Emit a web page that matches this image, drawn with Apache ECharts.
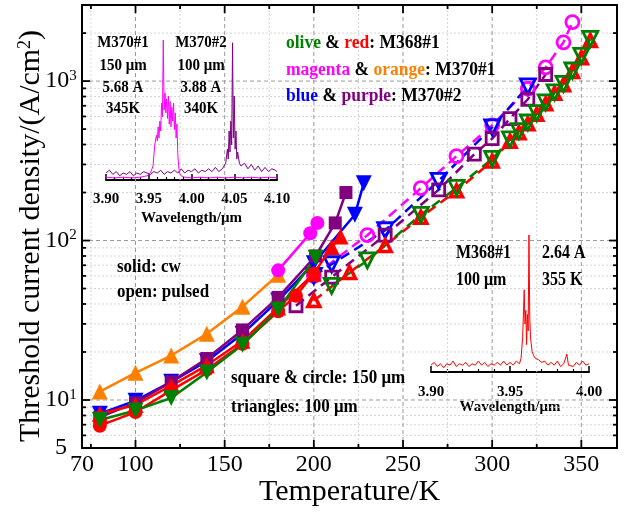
<!DOCTYPE html>
<html><head><meta charset="utf-8">
<script src="https://cdn.jsdelivr.net/npm/echarts@6/dist/echarts.min.js"></script>
<style>html,body{margin:0;padding:0;background:#fff}#c{width:626px;height:512px}</style>
</head><body><div id="c"></div>
<script>
const FONT = '"Liberation Serif","Times New Roman",serif';

// ---------- main axes ticks ----------
const xLabelTicks = [70, 100, 150, 200, 250, 300, 350];
const xMajorTicks = [100, 150, 200, 250, 300, 350];
const xMinorTicks = [75, 125, 175, 225, 275, 325];
const xGridMajor = [100, 150, 200, 250, 300, 350];
const xGridMinor = [75, 125, 175, 225, 275, 325];
const yLabelTicks = [5, 10, 100, 1000];
const yMajorTicks = [10, 100, 1000];
const yMinorTicks = [6, 7, 8, 9, 20, 30, 40, 50, 60, 70, 80, 90, 200, 300, 400, 500, 600, 700, 800, 900, 2000, 3000];
const yGridMajor = [10, 100, 1000];
const yGridMinor = [6, 7, 8, 9, 20, 30, 40, 50, 60, 70, 80, 90, 200, 300, 400, 500, 600, 700, 800, 900, 2000];

// ---------- cw (solid) ----------
const tOrangeCw = [80, 100, 120, 140, 160, 180];
const vOrangeCw = [11.3, 14.8, 19, 26, 38.5, 61];
const tMagentaCw = [180, 198, 202];
const vMagentaCw = [65, 111, 129];
const tPurpleCw = [80, 100, 120, 140, 160, 180, 201, 212, 218];
const vPurpleCw = [7.8, 9.6, 13, 18.2, 27.5, 44, 80, 129, 200];
const tBlueCw = [80, 100, 120, 140, 160, 180, 200, 223, 228];
const vBlueCw = [8.2, 9.9, 13, 17.5, 26, 42, 72, 145, 229];
const tRedCircCw = [80, 100, 120, 140, 160, 180, 190, 200];
const vRedCircCw = [6.9, 8.4, 11.5, 15.5, 22.5, 36, 45, 62];
const tRedTriCw = [80, 100, 120, 140, 160, 180, 200, 210, 215];
const vRedTriCw = [8.2, 9.3, 12.3, 16.5, 23.5, 38, 62, 91, 106];
const tOliveCw = [80, 100, 120, 140, 160, 180, 201];
const vOliveCw = [7.5, 8.6, 10.3, 14.9, 22.2, 37, 78];

// ---------- pulsed (open) ----------
const tMagentaP = [200, 230, 260, 280, 300, 320, 330, 340, 345];
const vMagentaP = [60, 108, 213, 338, 528, 895, 1220, 1750, 2340];
const tBlueP = [200, 210, 240, 270, 300, 320];
const vBlueP = [60, 71, 116, 237, 513, 927];
const tPurpleP = [190, 210, 240, 270, 290, 300, 310, 320, 330];
const vPurpleP = [39, 59, 108, 208, 348, 436, 582, 769, 1100];
const tRedP = [200, 220, 240, 260, 280, 300, 310, 315, 320, 325, 330, 335, 340, 345, 350, 355];
const vRedP = [42, 63, 93, 140, 205, 315, 420, 475, 540, 620, 720, 840, 950, 1150, 1400, 1800];
const tOliveP = [210, 230, 260, 280, 300, 310, 315, 320, 325, 330, 335, 340, 345, 350, 355];
const vOliveP = [52, 75, 145, 214, 325, 431, 485, 550, 630, 735, 850, 960, 1165, 1440, 1840];

// ---------- spectra ----------
const wlMagenta = [3.900,3.910,3.920,3.930,3.940,3.948,3.952,3.955,3.957,3.959,3.960,3.961,3.962,3.963,3.964,3.965,3.966,3.967,3.968,3.969,3.970,3.971,3.972,3.973,3.974,3.975,3.976,3.977,3.978,3.979,3.980,3.981,3.982,3.983,3.984,3.985,3.986,3.988,3.992,4.000,4.010,4.020,4.030,4.040,4.050,4.060,4.070,4.080,4.090,4.100];
const inMagenta = [0.02,0.015,0.02,0.015,0.02,0.03,0.05,0.10,0.25,0.32,0.28,0.38,0.30,0.42,0.35,0.55,0.45,1.0,0.50,0.62,0.48,0.58,0.44,0.60,0.40,0.56,0.38,0.52,0.42,0.55,0.36,0.48,0.30,0.40,0.18,0.10,0.05,0.03,0.02,0.015,0.02,0.015,0.02,0.015,0.02,0.015,0.02,0.015,0.02,0.015];
const wlPurple = [3.900,3.904,3.908,3.912,3.916,3.920,3.924,3.928,3.932,3.936,3.940,3.944,3.948,3.952,3.956,3.960,3.964,3.968,3.972,3.976,3.980,3.984,3.988,3.992,3.996,4.000,4.004,4.008,4.012,4.016,4.020,4.024,4.028,4.032,4.036,4.040,4.042,4.043,4.044,4.045,4.046,4.047,4.048,4.049,4.050,4.051,4.052,4.053,4.054,4.056,4.058,4.062,4.066,4.070,4.074,4.078,4.082,4.086,4.090,4.094,4.098,4.100];
const inPurple = [0.05,0.07,0.04,0.06,0.03,0.05,0.04,0.06,0.03,0.05,0.04,0.06,0.05,0.04,0.06,0.05,0.07,0.04,0.06,0.05,0.07,0.05,0.08,0.05,0.07,0.06,0.08,0.05,0.07,0.06,0.08,0.06,0.09,0.06,0.08,0.12,0.22,0.15,0.35,0.20,0.42,0.25,0.98,0.30,0.60,0.22,0.35,0.15,0.20,0.12,0.10,0.12,0.08,0.11,0.07,0.10,0.06,0.09,0.06,0.08,0.07,0.06];
const wlRed = [3.900,3.902,3.904,3.906,3.908,3.910,3.912,3.914,3.916,3.918,3.920,3.922,3.924,3.926,3.928,3.930,3.932,3.934,3.936,3.938,3.940,3.942,3.944,3.946,3.948,3.950,3.952,3.954,3.956,3.957,3.958,3.959,3.9595,3.960,3.9605,3.961,3.9615,3.962,3.9625,3.963,3.964,3.965,3.966,3.968,3.970,3.972,3.974,3.976,3.978,3.980,3.982,3.984,3.986,3.987,3.988,3.990,3.992,3.994,3.996,3.998,4.000];
const inRed = [0.05,0.07,0.04,0.06,0.03,0.06,0.05,0.08,0.04,0.06,0.05,0.07,0.04,0.06,0.05,0.08,0.05,0.07,0.04,0.06,0.05,0.07,0.05,0.08,0.05,0.07,0.05,0.08,0.06,0.10,0.25,0.60,0.35,0.45,0.20,0.42,0.30,1.0,0.40,0.25,0.15,0.12,0.10,0.09,0.07,0.08,0.05,0.07,0.05,0.08,0.04,0.06,0.13,0.05,0.06,0.04,0.07,0.05,0.08,0.05,0.06];

const zip = (a, b) => a.map((x, i) => [x, b[i]]);
const C = {olive:'#008000', red:'#ff0000', magenta:'#ff00ff', orange:'#ff8000', blue:'#0000ff', purple:'#800080'};

function solid(t, v, color, symbol, size, rotate) {
  return {type:'line', xAxisIndex:0, yAxisIndex:0, data: zip(t, v), symbol, symbolSize: size, symbolRotate: rotate || 0,
    lineStyle:{color, width:2.5}, itemStyle:{color, borderWidth:0}, z:5, clip:false};
}
function open(t, v, color, symbol, size, rotate, bw) {
  return {type:'line', xAxisIndex:0, yAxisIndex:0, data: zip(t, v), symbol, symbolSize: size, symbolRotate: rotate || 0,
    lineStyle:{color, width:2.5, type:[10,6]}, itemStyle:{color:'rgba(0,0,0,0)', borderColor: color, borderWidth: bw || 2.8}, z:4, clip:false};
}

function hLines(vals, style) {
  return {type:'custom', xAxisIndex:0, yAxisIndex:0, z:1, silent:true, data: vals.map(v => [70, v]),
    renderItem(p, api) {
      const a = api.coord([70, api.value(1)]), b = api.coord([370, api.value(1)]);
      return {type:'line', shape:{x1:a[0], y1:a[1], x2:b[0], y2:b[1]}, style};
    }};
}
function vLines(vals, style) {
  return {type:'custom', xAxisIndex:0, yAxisIndex:0, z:1, silent:true, data: vals.map(v => [v, 5]),
    renderItem(p, api) {
      const a = api.coord([api.value(0), 5]), b = api.coord([api.value(0), 3000]);
      return {type:'line', shape:{x1:a[0], y1:a[1], x2:b[0], y2:b[1]}, style};
    }};
}
function yTicks(vals, len) {
  return {type:'custom', xAxisIndex:0, yAxisIndex:0, z:6, silent:true, data: vals.map(v => [70, v]),
    renderItem(p, api) {
      const a = api.coord([70, api.value(1)]), b = api.coord([370, api.value(1)]);
      const st = {stroke:'#000', lineWidth:1.8};
      return {type:'group', children:[
        {type:'line', shape:{x1:a[0], y1:a[1], x2:a[0]+len, y2:a[1]}, style:st},
        {type:'line', shape:{x1:b[0], y1:b[1], x2:b[0]-len, y2:b[1]}, style:st}]};
    }};
}
function xTicks(vals, len) {
  return {type:'custom', xAxisIndex:0, yAxisIndex:0, z:6, silent:true, data: vals.map(v => [v, 5]),
    renderItem(p, api) {
      const a = api.coord([api.value(0), 5]), b = api.coord([api.value(0), 3000]);
      const st = {stroke:'#000', lineWidth:1.8};
      return {type:'group', children:[
        {type:'line', shape:{x1:a[0], y1:a[1], x2:a[0], y2:a[1]-len}, style:st},
        {type:'line', shape:{x1:b[0], y1:b[1], x2:b[0], y2:b[1]+len}, style:st}]};
    }};
}

const gridMajorStyle = {stroke:'#999', lineWidth:1, lineDash:[4,3]};
const gridMinorStyle = {stroke:'#d4d4d4', lineWidth:1, lineDash:[2,2]};

const chart = echarts.init(document.getElementById('c'), null, {renderer:'canvas'});
const SY = 1.12;
const boldText = (x, y, text, size, align, rich) => ({type:'text', x, y, z:20, scaleY: SY,
  style:{text, fill:'#000', font:'bold ' + size + 'px ' + FONT, textAlign: align || 'left', textVerticalAlign:'middle', rich}});
const legRich = (s) => {
  const mk = c => ({fill:c, fontWeight:'bold', fontSize:s, fontFamily:FONT, color:c});
  return {g:mk(C.olive), r:mk(C.red), m:mk(C.magenta), o:mk(C.orange), b:mk(C.blue), p:mk(C.purple), k:mk('#000')};
};

const option = {
  animation:false,
  backgroundColor:'#fff',
  grid:[
    {left:82, right:9, top:5, bottom:64},
    {left:106, top:40, width:171, height:140},
    {left:431, top:235, width:158, height:137}
  ],
  xAxis:[
    {type:'value', gridIndex:0, min:70, max:370, position:'bottom',
     axisLine:{show:true, onZero:false, lineStyle:{color:'#000', width:2}},
     axisTick:{show:false}, splitLine:{show:false},
     axisLabel:{customValues:xLabelTicks, fontFamily:FONT, fontSize:24, color:'#000', margin:5},
     name:'Temperature/K', nameLocation:'middle', nameGap:29, nameMoveOverlap:false,
     nameTextStyle:{fontFamily:FONT, fontSize:30, color:'#000'}},
    {type:'value', gridIndex:0, min:70, max:370, position:'top',
     axisLine:{show:true, onZero:false, lineStyle:{color:'#000', width:2}},
     axisTick:{show:false}, axisLabel:{show:false}, splitLine:{show:false}},
    {type:'value', gridIndex:1, min:3.90, max:4.10, interval:0.05, position:'bottom',
     axisLine:{show:true, onZero:false, lineStyle:{color:'#000', width:2}},
     axisTick:{show:true, inside:true, length:6, lineStyle:{color:'#000', width:1.5}},
     minorTick:{show:true, splitNumber:5, length:3, lineStyle:{color:'#000', width:1.2}},
     splitLine:{show:false},
     axisLabel:{fontFamily:FONT, fontWeight:'bold', fontSize:15, color:'#000', margin:12, formatter:v => v.toFixed(2)},
     name:'Wavelength/μm', nameLocation:'middle', nameGap:31, nameMoveOverlap:false,
     nameTextStyle:{fontFamily:FONT, fontWeight:'bold', fontSize:15, color:'#000'}},
    {type:'value', gridIndex:2, min:3.90, max:4.00, interval:0.05, position:'bottom',
     axisLine:{show:true, onZero:false, lineStyle:{color:'#000', width:2}},
     axisTick:{show:true, inside:true, length:6, lineStyle:{color:'#000', width:1.5}},
     minorTick:{show:true, splitNumber:5, length:3, lineStyle:{color:'#000', width:1.2}},
     splitLine:{show:false},
     axisLabel:{fontFamily:FONT, fontWeight:'bold', fontSize:15, color:'#000', margin:13, formatter:v => v.toFixed(2)},
     name:'Wavelength/μm', nameLocation:'middle', nameGap:28, nameMoveOverlap:false,
     nameTextStyle:{fontFamily:FONT, fontWeight:'bold', fontSize:15, color:'#000'}}
  ],
  yAxis:[
    {type:'log', logBase:10, gridIndex:0, min:5, max:3000, position:'left',
     axisLine:{show:true, onZero:false, lineStyle:{color:'#000', width:2}},
     axisTick:{show:false}, splitLine:{show:false}, minorTick:{show:false},
     axisLabel:{customValues:yLabelTicks, fontFamily:FONT, fontSize:24, color:'#000', margin:21, align:'center',
       formatter: v => v < 9 ? String(Math.round(v)) : '10{s|' + Math.round(Math.log10(v)) + '}',
       rich:{s:{fontFamily:FONT, fontSize:15, color:'#000', verticalAlign:'top', padding:[0,0,10,0]}}}},
    {type:'log', logBase:10, gridIndex:0, min:5, max:3000, position:'right',
     axisLine:{show:true, onZero:false, lineStyle:{color:'#000', width:2}},
     axisTick:{show:false}, axisLabel:{show:false}, splitLine:{show:false}},
    {type:'value', gridIndex:1, min:0, max:1, show:false},
    {type:'value', gridIndex:2, min:0, max:1, show:false}
  ],
  series:[
    hLines(yGridMinor, gridMinorStyle),
    vLines(xGridMinor, gridMinorStyle),
    hLines(yGridMajor, gridMajorStyle),
    vLines(xGridMajor, gridMajorStyle),
    yTicks(yMajorTicks, 8), yTicks(yMinorTicks, 4),
    xTicks(xMajorTicks, 8), xTicks(xMinorTicks, 4),
    {type:'line', xAxisIndex:2, yAxisIndex:2, data:zip(wlPurple, inPurple), symbol:'none', lineStyle:{color:C.purple, width:1}, z:3},
    {type:'line', xAxisIndex:2, yAxisIndex:2, data:zip(wlMagenta, inMagenta), symbol:'none', lineStyle:{color:C.magenta, width:1}, z:3},
    {type:'line', xAxisIndex:3, yAxisIndex:3, data:zip(wlRed, inRed), symbol:'none', lineStyle:{color:C.red, width:1}, z:3},
    open(tMagentaP, vMagentaP, C.magenta, 'circle', 13),
    open(tBlueP, vBlueP, C.blue, 'triangle', 15, 180),
    open(tPurpleP, vPurpleP, C.purple, 'rect', 12),
    open(tRedP, vRedP, C.red, 'triangle', 12, 0, 3.5),
    open(tOliveP, vOliveP, C.olive, 'triangle', 15, 180),
    solid(tOrangeCw, vOrangeCw, C.orange, 'triangle', 16),
    solid(tMagentaCw, vMagentaCw, C.magenta, 'circle', 14),
    solid(tBlueCw, vBlueCw, C.blue, 'triangle', 16, 180),
    solid(tPurpleCw, vPurpleCw, C.purple, 'rect', 13),
    solid(tRedCircCw, vRedCircCw, C.red, 'circle', 14),
    solid(tRedTriCw, vRedTriCw, C.red, 'triangle', 16),
    solid(tOliveCw, vOliveCw, C.olive, 'triangle', 16, 180)
  ],
  graphic:[
    {type:'text', x:31, y:236, rotation:Math.PI / 2, z:20,
     style:{text:'Threshold current density/(A/cm{s|2})', fill:'#000', font:'30px ' + FONT,
       textAlign:'center', textVerticalAlign:'middle',
       rich:{s:{fontFamily:FONT, fontSize:18, fill:'#000', verticalAlign:'top', padding:[0,0,12,0]}}}},
    boldText(123, 43, 'M370#1', 15, 'center'),
    boldText(123, 66, '150 μm', 15, 'center'),
    boldText(123, 88, '5.68 A', 15, 'center'),
    boldText(123, 109, '345K', 15, 'center'),
    boldText(201, 43, 'M370#2', 15, 'center'),
    boldText(201, 66, '100 μm', 15, 'center'),
    boldText(201, 88, '3.88 A', 15, 'center'),
    boldText(201, 109, '340K', 15, 'center'),
    boldText(286, 43, '{g|olive}{k| & }{r|red}{k|: M368#1}', 17.5, 'left', legRich(17.5)),
    boldText(286, 70, '{m|magenta}{k| & }{o|orange}{k|: M370#1}', 17.5, 'left', legRich(17.5)),
    boldText(286, 96, '{b|blue}{k| & }{p|purple}{k|: M370#2}', 17.5, 'left', legRich(17.5)),
    boldText(117, 267, 'solid: cw', 17),
    boldText(117, 292, 'open: pulsed', 17),
    boldText(231, 378, 'square & circle: 150 μm', 17),
    boldText(231, 407, 'triangles: 100 μm', 17),
    boldText(456, 253, 'M368#1', 16),
    boldText(542, 253, '2.64 A', 16),
    boldText(456, 280, '100 μm', 16),
    boldText(542, 280, '355 K', 16)
  ]
};
chart.setOption(option);
</script></body></html>
